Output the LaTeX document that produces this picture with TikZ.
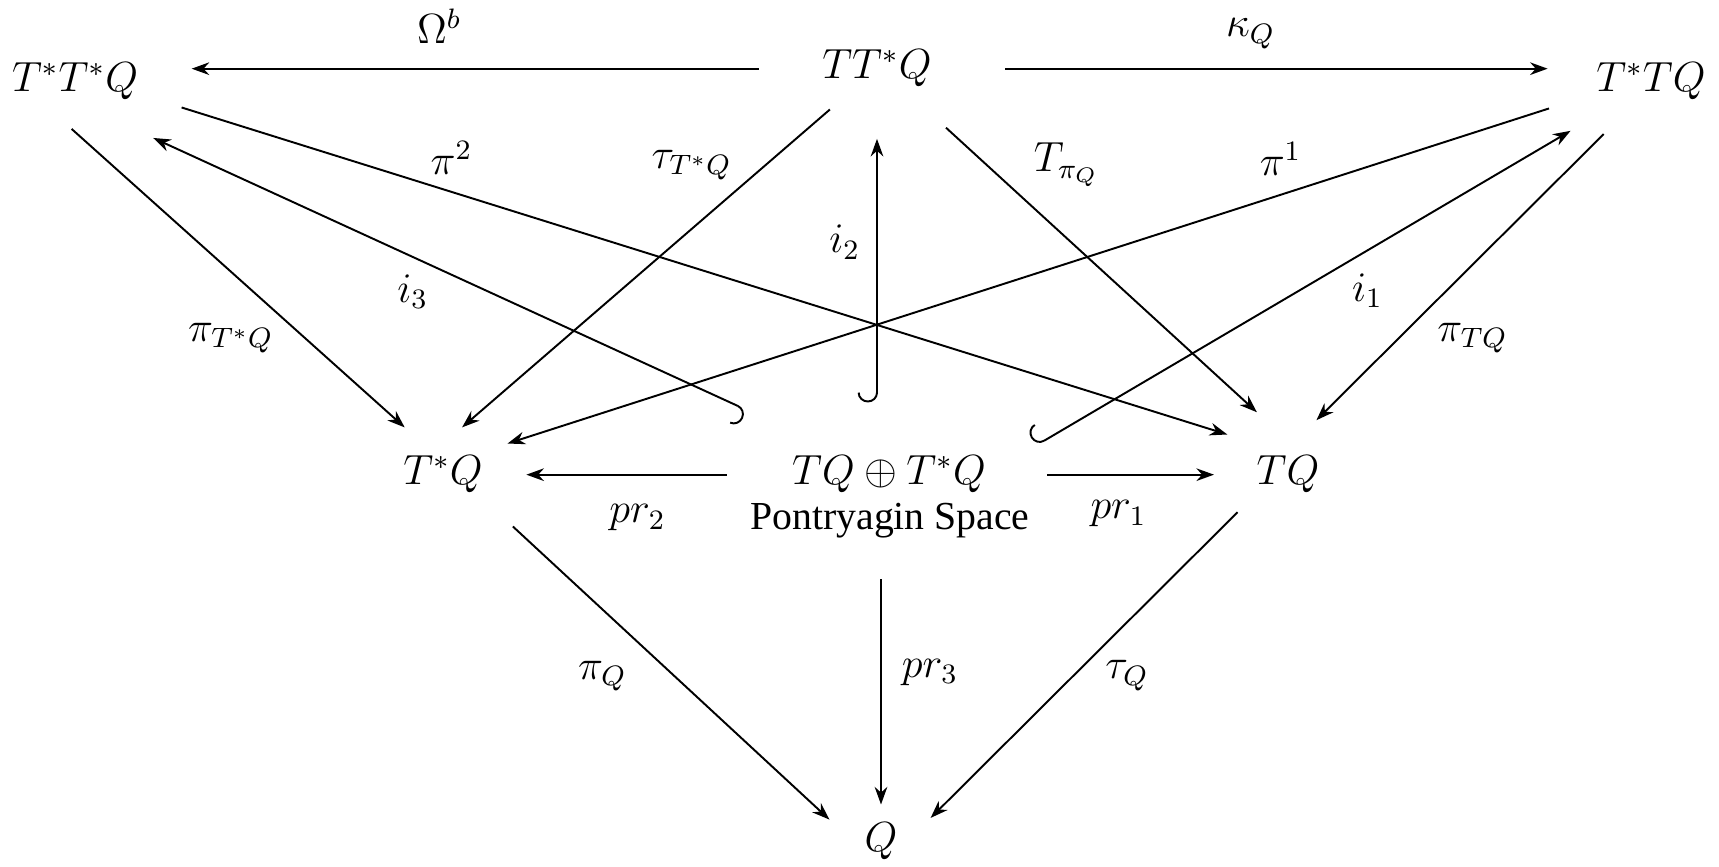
\documentclass[tikz,border=0pt,12pt]{standalone}
\usepackage[no-math]{fontspec}
\setmainfont{Liberation Serif}
\usetikzlibrary{arrows.meta}

\tikzset{
  obj/.style={inner sep=0pt, anchor=base},
  lbl/.style={inner sep=0pt},
  map/.style={->, line width=0.55pt},
  incl/.style={{Hooks[right,width=11pt,length=2.8pt]}->, line width=0.55pt},
}

\begin{document}
\begin{tikzpicture}[>={Stealth[length=5pt,width=3.6pt]}]
        \useasboundingbox (0,0) rectangle (17.19,-8.67);

        % Espacios
        \node[obj] (TsTsQ) at (0.75,-0.92) {$T^*T^*Q$};
        \node[obj] (TTsQ) at (8.77,-0.79) {$TT^*Q$};
        \node[obj] (TsTQ) at (16.51,-0.92) {$T^*TQ$};
        \node[obj] (TsQ) at (4.43,-4.85) {$T^*Q$};
        \node[obj] (pont) at (8.89,-4.85) {$TQ\oplus T^*Q$};
        \node[obj] (pontname) at (8.90,-5.30) {\rmfamily\fontsize{11.3}{13}\selectfont Pontryagin Space};
        \node[obj] (TQ) at (12.88,-4.85) {$TQ$};
        \node[obj] (Q) at (8.81,-8.52) {$Q$};

        % Fila superior
        \draw[map, shorten <=6.3mm, shorten >=5.3mm] (TTsQ.west) -- node[lbl, pos=0.56, above=2.4mm] {$\Omega^b$} (TTsQ.west -| TsTsQ.east);
        \draw[map, shorten <=7.3mm, shorten >=4.8mm] (TTsQ.east) -- node[lbl, pos=0.48, above=1.9mm] {$\kappa_Q$} (TTsQ.east -| TsTQ.west);

        % Proyecciones
        \draw[map, shorten <=4.2mm, shorten >=4.2mm] (TsTsQ.209) -- node[lbl, pos=0.67, left=3.1mm] {$\pi_{T^*Q}$} (TsQ.110);
        \draw[map, shorten <=3.3mm, shorten >=4.3mm] (TTsQ.221) -- node[lbl, pos=0.21, left=3.3mm] {$\tau_{T^*Q}$} (TsQ.125);
        \draw[map, shorten <=5.9mm, shorten >=6.4mm] (TTsQ.-37) -- node[lbl, pos=0.21, right=4.6mm] {$T_{\pi_Q}$} (TQ.50);
        \draw[map, shorten <=4.7mm, shorten >=5mm] (TsTQ.234) -- node[lbl, pos=0.67, right=3.8mm] {$\pi_{TQ}$} (TQ.110);
        \draw[map, shorten <=4.5mm, shorten >=3mm] (TsTsQ.-11.5) -- node[lbl, pos=0.28, above=1.6mm] {$\pi^2$} ([yshift=1.2mm]TQ.north west);
        \draw[map, shorten <=4.9mm, shorten >=3.9mm] (TsTQ.192) -- node[lbl, pos=0.28, above=1.8mm] {$\pi^1$} (TsQ.35);

        % Inclusiones
        \draw[incl, shorten <=10.9mm, shorten >=8.9mm] (pont.156) -- node[lbl, pos=0.56, below=1.7mm] {$i_3$} (TsTsQ.262);
        \draw[incl, shorten <=5.3mm, shorten >=5.1mm] (TTsQ.south |- pont.north) -- node[lbl, pos=0.58, left=1.6mm] {$i_2$} (TTsQ.south);
        \draw[incl, shorten <=5.7mm, shorten >=5.9mm] (pont.east) -- node[lbl, pos=0.6, below=2.2mm] {$i_1$} (TsTQ.213);

        % Espacio de Pontryagin
        \draw[map, shorten <=6.5mm, shorten >=4.3mm] (pont.west) -- node[lbl, pos=0.5, below=2.9mm] {$pr_2$} (TsQ.east);
        \draw[map, shorten <=6.1mm, shorten >=4.2mm] (pont.east) -- node[lbl, pos=0.49, below=2.5mm] {$pr_1$} (TQ.west);

        % Hacia Q
        \draw[map, shorten <=4.8mm, shorten >=4.7mm] (TsQ.-29.5) -- node[lbl, pos=0.51, left=4.7mm] {$\pi_Q$} (Q.210);
        \draw[map, shorten <=4mm, shorten >=1.8mm] (Q.north |- pontname.south) -- node[lbl, pos=0.47, right=2mm] {$pr_3$} (Q.north);
        \draw[map, shorten <=2.6mm, shorten >=4.6mm] (TQ.south west) -- node[lbl, pos=0.51, right=3.1mm] {$\tau_Q$} (Q.-27);

\end{tikzpicture}
\end{document}
